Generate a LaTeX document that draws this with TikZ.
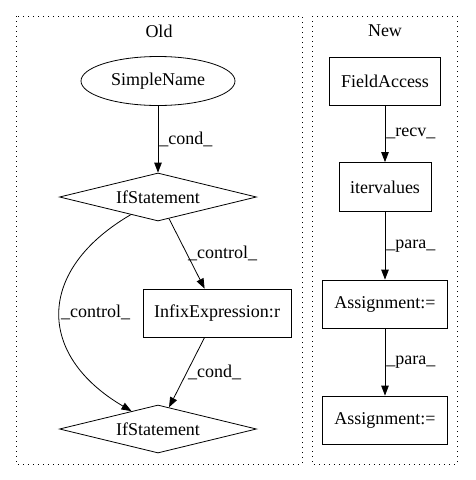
\documentclass[tikz,border=0pt]{standalone}
\usepackage{fontspec}
\setmainfont{Liberation Serif}
\usetikzlibrary{arrows.meta,shapes.geometric}
\tikzset{
	% ---- default
	every path/.style={line width=0.8pt},
	every node/.style={font=\fontsize{18}{21}\selectfont},
	% ---- custom
	cluster/.style={line width=0.9pt, dash pattern=on 1.2pt off 3.8pt},
	box/.style={draw, rectangle, minimum height=48pt, inner sep=0pt},
	oval/.style={draw, ellipse, minimum width=154pt, minimum height=49pt, inner sep=0pt},
	decision/.style={draw, diamond, aspect=4, minimum width=197pt, minimum height=48pt, inner sep=0pt},
	edge/.style={-{Triangle[length=10pt, width=7.5pt]}},
	edge label/.style={right, inner sep=1pt},
}

\begin{document}
\begin{tikzpicture}[x=1pt, y=-1pt]

% canvas %{{{2

	\useasboundingbox (0,0) rectangle (475,480);

% clusters %{{{2

	\draw[cluster] (16,16) rectangle (302,464);
	\draw[cluster] (312,16) rectangle (457,464);

	\node (oldtitle) at (159,31) {Old};
	\node (newtitle) at (385,31) {New};

% old nodes %{{{2

	\node[oval] (simplename) at (158,81) {SimpleName};
	\node[decision] (ifa) at (158,197) {IfStatement};
	\node[box, minimum width=148pt] (infix) at (217,313) {InfixExpression:r};
	\node[decision] (ifb) at (158,429) {IfStatement};

% new nodes %{{{2

	\node[box, minimum width=111pt] (fieldaccess) at (385,81) {FieldAccess};
	\node[box, minimum width=92pt, minimum height=49pt] (itervalues) at (385,187) {itervalues};
	\node[box, minimum width=125pt] (assigna) at (385,304) {Assignment:=};
	\node[box, minimum width=125pt] (assignb) at (385,420) {Assignment:=};

% old edges %{{{2

	\draw[edge] (simplename) -- node[edge label] {\_cond\_} (ifa);
	\draw[edge] (ifa) -- node[edge label] {\_control\_} (infix);
	\draw[edge] (infix) -- node[edge label] {\_cond\_} (ifb);
	\draw[edge] (ifa.213) .. controls (36,270) and (36,355) ..
		node[edge label, pos=0.5] {\_control\_} (ifb.146);

% new edges %{{{2

	\draw[edge] (fieldaccess) -- node[edge label] {\_recv\_} (itervalues);
	\draw[edge] (itervalues) -- node[edge label] {\_para\_} (assigna);
	\draw[edge] (assigna) -- node[edge label] {\_para\_} (assignb);

% closing %{{{2

\end{tikzpicture}
\end{document}
